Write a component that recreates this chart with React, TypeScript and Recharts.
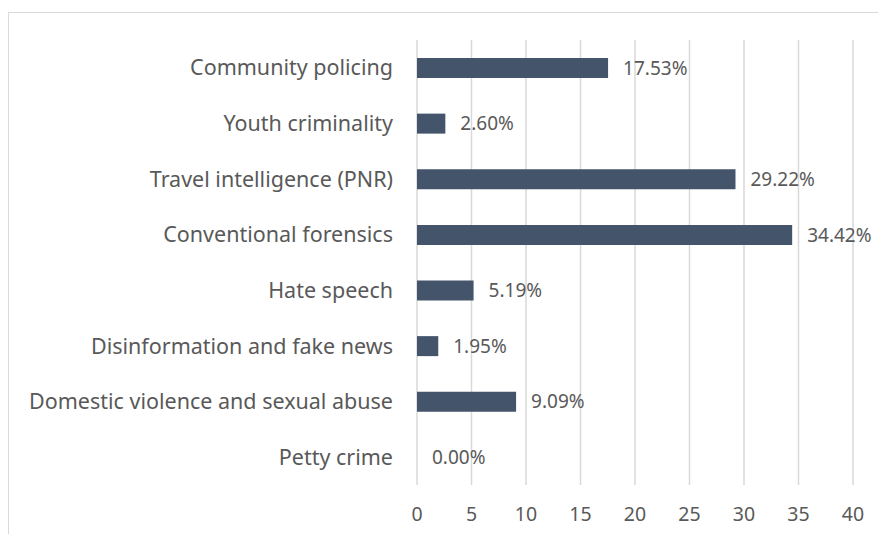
import React from 'react';
import { BarChart, Bar, XAxis, YAxis, CartesianGrid, LabelList } from 'recharts';

const categories = [
  'Community policing',
  'Youth criminality',
  'Travel intelligence (PNR)',
  'Conventional forensics',
  'Hate speech',
  'Disinformation and fake news',
  'Domestic violence and sexual abuse',
  'Petty crime',
];
const shares = [17.53, 2.6, 29.22, 34.42, 5.19, 1.95, 9.09, 0.0];
const xTicks = [0, 5, 10, 15, 20, 25, 30, 35, 40];

const data = categories.map((name, i) => ({ name, value: shares[i] }));

const font = '"Noto Sans", sans-serif';
const textColor = '#595959';

const App: React.FC = () => {
  return (
    // fixed page-sized frame so nothing overflows into scrollbars
    <div style={{ position: 'fixed', left: 0, top: 0, width: 878, height: 534, overflow: 'hidden', fontFamily: font, background: '#fff' }}>
      <div
        style={{
          position: 'absolute',
          left: 8,
          top: 12,
          width: 900,
          height: 600,
          border: '1px solid #d9d9d9',
        }}
      />
      <div style={{ position: 'absolute', left: 8, top: 8 }}>
        <BarChart
          width={870}
          height={526}
          data={data}
          layout="vertical"
          margin={{ top: 32, right: 25, left: 0, bottom: 19 }}
          barCategoryGap="32%"
        >
          <CartesianGrid horizontal={false} stroke="#d9d9d9" strokeWidth={1.5} />
          <XAxis
            type="number"
            domain={[0, 40]}
            ticks={xTicks}
            axisLine={false}
            tickLine={false}
            tickSize={0}
            tickMargin={22}
            height={30}
            tick={{ fill: textColor, fontSize: 19.5, fontFamily: font }}
          />
          <YAxis
            type="category"
            dataKey="name"
            width={409}
            axisLine={false}
            tickLine={false}
            tickSize={0}
            tickMargin={24}
            tick={{ fill: textColor, fontSize: 21.5, fontFamily: font }}
          />
          <Bar dataKey="value" fill="#44546a" barSize={20} minPointSize={0.01} isAnimationActive={false}>
            <LabelList
              dataKey="value"
              position="right"
              offset={15}
              formatter={(v: number) => `${Number(v).toFixed(2)}%`}
              style={{ fill: textColor, fontSize: 19, fontFamily: font }}
            />
          </Bar>
        </BarChart>
      </div>
    </div>
  );
};

export default App;
